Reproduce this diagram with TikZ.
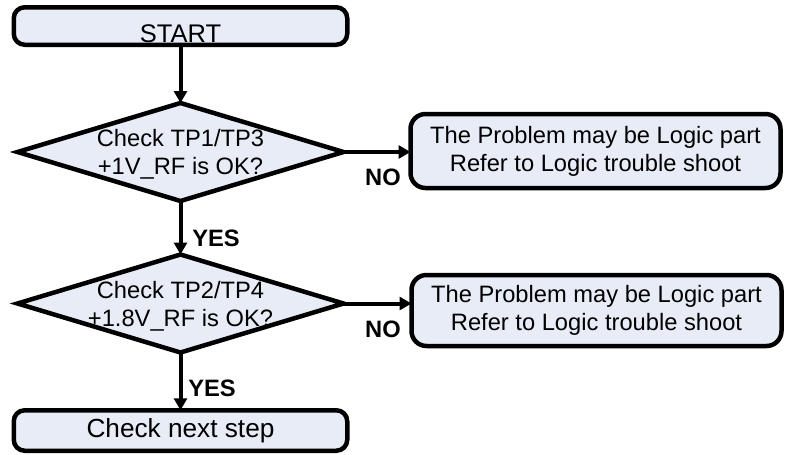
\documentclass[tikz,border=0pt]{standalone}
\usepackage{fontspec}
\setmainfont{Liberation Sans}
\usetikzlibrary{shapes.geometric,arrows.meta}
\definecolor{boxfill}{RGB}{231,236,247}
\begin{document}
\begin{tikzpicture}[x=1pt,y=-1pt,
  every node/.style={font=\fontsize{23.7}{28}\selectfont},
  bigtext/.style={font=\fontsize{25.5}{30}\selectfont},
  roundbox/.style={draw, line width=4.5pt, fill=boxfill, rounded corners=11pt,
    inner sep=0pt, outer sep=0pt, align=center},
  notebox/.style={roundbox, rounded corners=15pt, minimum width=370pt},
  decision/.style={draw, diamond, line width=4.5pt, fill=boxfill,
    minimum width=326pt, minimum height=98pt, inner sep=0pt, outer sep=0pt},
  flow/.style={line width=4pt, -{Triangle[length=12pt,width=13pt]}},
  answer/.style={font=\fontsize{23.7}{28}\selectfont\bfseries, inner sep=0pt}]
\useasboundingbox (0,0) rectangle (787,455);

% main column
\node[roundbox, minimum width=333.5pt, minimum height=37.5pt,
  label={[bigtext, yshift=-8pt]center:START}] (start) at (180.5,26) {};
\node[decision, label={[yshift=-2.5pt, align=center]center:{Check TP1/TP3\\+1V\_RF is OK?}}]
  (d1) at (180.5,152) {};
\node[decision, label={[yshift=-2.5pt, align=center]center:{Check TP2/TP4\\+1.8V\_RF is OK?}}]
  (d2) at (180.5,303.5) {};
\node[roundbox, bigtext, font=\fontsize{26.2}{30}\selectfont,
  minimum width=333.5pt, minimum height=40.5pt] (next) at (180.5,430.5)
  {Check next step};

% side notes
\node[notebox, minimum height=74pt] (b1) at (595.5,151)
  {The Problem may be Logic part\\Refer to Logic trouble shoot};
\node[notebox, minimum height=71pt] (b2) at (596.5,310.5)
  {The Problem may be Logic part\\Refer to Logic trouble shoot};

% connectors
\draw[flow] (start) -- (d1);
\draw[flow] (d1) -- (d2);
\draw[flow] (d2) -- (next);
\draw[flow] (d1.east) -- (d1.east -| b1.west);
\draw[flow] (d2.east) -- (d2.east -| b2.west);

% branch labels
\node[answer] (yes1) at (216,238) {YES};
\node[answer] (yes2) at (212,388) {YES};
\node[answer] (no1) at (383,177) {NO};
\node[answer] (no2) at (383,329) {NO};
\end{tikzpicture}
\end{document}
